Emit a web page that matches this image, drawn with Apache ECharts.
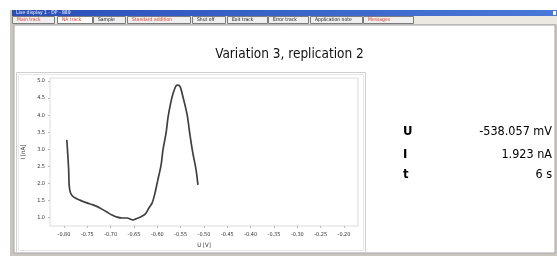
<!DOCTYPE html>
<html>
<head>
<meta charset="utf-8">
<style>
html,body{margin:0;padding:0;background:#fff;}
#chart{width:557px;height:258px;}
</style>
<script src="https://cdn.jsdelivr.net/npm/echarts@6/dist/echarts.min.js"></script>
</head>
<body>
<div id="chart"></div>
<script>
// ---- data ----
var voltage = [-0.794,-0.7925,-0.790,-0.789,-0.786,-0.779,-0.766,-0.751,-0.738,-0.723,-0.708,-0.697,-0.686,-0.676,-0.665,-0.652,-0.646,-0.637,-0.626,-0.618,-0.611,-0.605,-0.599,-0.592,-0.588,-0.581,-0.577,-0.571,-0.566,-0.560,-0.556,-0.551,-0.545,-0.536,-0.530,-0.524,-0.517,-0.513];
var current = [3.27,2.97,2.39,1.95,1.71,1.59,1.50,1.42,1.36,1.27,1.15,1.06,1.00,0.975,0.975,0.92,0.95,1.00,1.09,1.27,1.42,1.71,2.09,2.53,2.97,3.50,3.94,4.38,4.65,4.86,4.88,4.83,4.53,4.00,3.41,2.89,2.39,1.95];
var xTicks = [-0.80,-0.75,-0.70,-0.65,-0.60,-0.55,-0.50,-0.45,-0.40,-0.35,-0.30,-0.25,-0.20];
var yTicks = [1.0,1.5,2.0,2.5,3.0,3.5,4.0,4.5,5.0];
var tabNames = ['Main track','NA track','Sample','Standard addition','Shut off','Exit track','Error track','Application note','Messages'];
var tabRed = [true,true,false,true,false,false,false,false,true];
var readLabels = ['U','I','t'];
var readValues = ['-538.057 mV','1.923 nA','6 s'];
var chartTitle = 'Variation 3, replication 2';
var windowTitle = 'Live display 1 - DP - 889';

// ---- layout ----
var tabX = [12,57,93,127,192,227,268,310,363];
var tabW = [42,35,32,63,33,40,40,52,50];
var FONT = '"DejaVu Sans Condensed","DejaVu Sans",sans-serif';

var pts = voltage.map(function(v,i){return [v,current[i]];});

var g = [];
// window frame
g.push({type:'rect',shape:{x:10,y:10,width:547,height:246},style:{fill:'#c9c6bf'},z:-10});
g.push({type:'rect',shape:{x:12,y:10,width:545,height:6},style:{fill:new echarts.graphic.LinearGradient(0,0,1,0,[{offset:0,color:'#2a4fb8'},{offset:1,color:'#4a78d8'}])},z:-9});
g.push({type:'text',left:16,top:10,style:{text:windowTitle,fill:'#ffffff',font:'5px '+FONT},z:-8});
g.push({type:'rect',shape:{x:553,y:11,width:3,height:4},style:{fill:'#ffffff'},z:-8});
// tabs strip
g.push({type:'rect',shape:{x:12,y:16,width:545,height:8},style:{fill:'#ece9e2'},z:-9});
tabNames.forEach(function(n,i){
  g.push({type:'rect',shape:{x:tabX[i]+0.5,y:16.5,width:tabW[i],height:7},style:{fill:i===1?'#fbfbfb':'#efefef',stroke:'#7c7c7c',lineWidth:1},z:-8});
  g.push({type:'text',x:tabX[i]+5,y:17.3,style:{text:n,fill:tabRed[i]?'#e0402a':'#111111',font:'5px '+FONT},z:-7});
});
// main white panel
g.push({type:'rect',shape:{x:14,y:25,width:541,height:228},style:{fill:'#ffffff',stroke:'#a8a8a8',lineWidth:1},z:-6});
// chart sub-panel
g.push({type:'rect',shape:{x:16.5,y:72.5,width:349,height:180},style:{fill:'#ffffff',stroke:'#cfcfcf',lineWidth:1},z:-5});
g.push({type:'rect',shape:{x:18.5,y:74.5,width:345,height:176},style:{fill:'none',stroke:'#e6e6e6',lineWidth:1},z:-5});
// readouts
readLabels.forEach(function(l,i){
  var yy=[132,155,175][i];
  g.push({type:'text',x:403,y:yy,style:{text:l,fill:'#000',font:'bold 13px '+FONT,textVerticalAlign:'middle'},z:5});
  g.push({type:'text',x:552,y:yy,style:{text:readValues[i],fill:'#000',font:'12.5px '+FONT,textAlign:'right',textVerticalAlign:'middle'},z:5});
});

var chart = echarts.init(document.getElementById('chart'),null,{renderer:'canvas'});
chart.setOption({
  animation:false,
  backgroundColor:'#ffffff',
  title:{text:chartTitle,left:284.5,top:42,textAlign:'center',textStyle:{fontFamily:FONT,fontSize:13.5,fontWeight:'normal',color:'#111'}},
  grid:{left:50,top:78,width:308,height:148,show:true,borderColor:'#dcdcdc',borderWidth:1,backgroundColor:'#ffffff',containLabel:false},
  xAxis:{type:'value',min:-0.83,max:-0.17,
    name:'U [V]',nameLocation:'middle',nameGap:15,nameTextStyle:{fontFamily:FONT,fontSize:6,color:'#333'},
    axisLine:{show:false},
    axisTick:{show:true,length:2,lineStyle:{color:'#bdbdbd'},customValues:xTicks},
    axisLabel:{fontFamily:FONT,fontSize:5.5,color:'#333',margin:6,customValues:xTicks,formatter:function(v){return v.toFixed(2);}},
    splitLine:{show:false}},
  yAxis:{type:'value',min:0.74,max:5.09,
    name:'I [nA]',nameLocation:'middle',nameGap:19,nameRotate:90,nameTextStyle:{fontFamily:FONT,fontSize:6,color:'#333'},
    axisLine:{show:false},
    axisTick:{show:true,length:2,lineStyle:{color:'#bdbdbd'},customValues:yTicks},
    axisLabel:{fontFamily:FONT,fontSize:5.5,color:'#333',margin:5,customValues:yTicks,formatter:function(v){return v.toFixed(1);}},
    splitLine:{show:false}},
  series:[{type:'line',data:pts,showSymbol:false,smooth:0.3,lineStyle:{color:'#404040',width:1.7},z:3}],
  graphic:{elements:g}
});
</script>
</body>
</html>
